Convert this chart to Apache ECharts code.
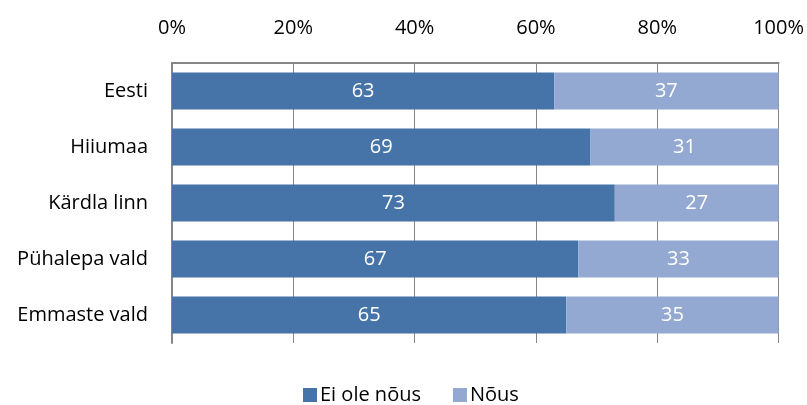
<!DOCTYPE html>
<html>
<head>
<meta charset="utf-8">
<script src="https://cdn.jsdelivr.net/npm/echarts@6/dist/echarts.min.js"></script>
<style>
  html, body { margin: 0; padding: 0; background: #fff; }
  #chart { width: 807px; height: 405px; }
</style>
</head>
<body>
<div id="chart"></div>
<script>
const categories = ["Eesti", "Hiiumaa", "Kärdla linn", "Pühalepa vald", "Emmaste vald"];
const eiOleNous = [63, 69, 73, 67, 65];
const nous = [37, 31, 27, 33, 35];
const seriesNames = ["Ei ole nõus", "Nõus"];

let myChart = echarts.init(document.getElementById("chart"));
const fontFam = "'Open Sans', 'Noto Sans', sans-serif";

let option = {
  animation: false,
  textStyle: { fontFamily: fontFam },
  grid: { left: 172, right: 28, top: 63, bottom: 62 },
  legend: {
    top: 380,
    left: 298,
    itemWidth: 14,
    itemHeight: 14,
    itemGap: 32,
    icon: "rect",
    textStyle: { fontSize: 20, color: "#000", fontFamily: fontFam, padding: [0, 0, 0, -2] },
    data: seriesNames,
  },
  xAxis: {
    type: "value",
    position: "top",
    min: 0,
    max: 100,
    interval: 20,
    axisLine: { show: true, lineStyle: { color: "#868686", width: 2 } },
    axisTick: { show: false },
    splitLine: { show: true, lineStyle: { color: "#868686", width: 1 } },
    axisLabel: { margin: 25, fontSize: 20, color: "#000", formatter: "{value}%" },
  },
  yAxis: {
    type: "category",
    inverse: true,
    data: categories,
    axisLine: { show: true, lineStyle: { color: "#868686", width: 2 } },
    axisTick: { show: false },
    axisLabel: { margin: 24, fontSize: 20, color: "#000" },
  },
  series: [
    {
      name: seriesNames[0],
      type: "bar",
      stack: "total",
      barWidth: 37,
      data: eiOleNous,
      itemStyle: { color: "#4674a8" },
      label: { show: true, position: "inside", color: "#fff", fontSize: 20 },
    },
    {
      name: seriesNames[1],
      type: "bar",
      stack: "total",
      barWidth: 37,
      data: nous,
      itemStyle: { color: "#94a9d1" },
      label: { show: true, position: "inside", color: "#fff", fontSize: 20 },
    },
  ],
};
option && myChart.setOption(option);
</script>
</body>
</html>
